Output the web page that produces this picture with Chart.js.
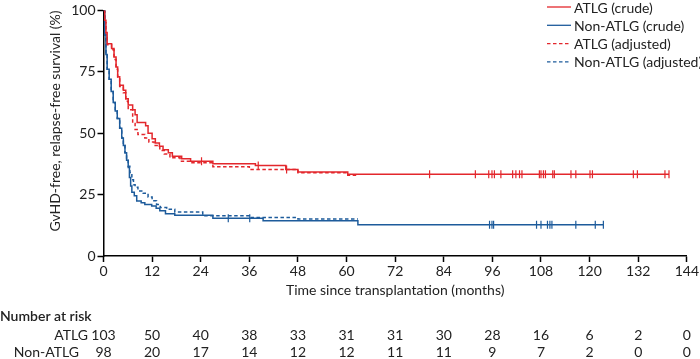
<!DOCTYPE html>
<html>
<head>
<meta charset="utf-8">
<script src="https://cdn.jsdelivr.net/npm/chart.js@4.4.1/dist/chart.umd.min.js"></script>
<style>
  html, body { margin: 0; padding: 0; background: #fff; }
  #wrap { width: 700px; height: 359px; position: relative; }
</style>
</head>
<body>
<div id="wrap"><canvas id="c" width="700" height="359"></canvas></div>
<script>
// ---------- DATA ----------
const xTicks = [0, 12, 24, 36, 48, 60, 72, 84, 96, 108, 120, 132, 144];
const yTicks = [0, 25, 50, 75, 100];

// Kaplan-Meier step points [months, %]
const atlgCrude = [[0,100],[0.3,96],[0.6,91],[0.9,86.4],[2.0,84.5],[2.6,81],[3.1,77],[3.5,73],[4.0,69.5],[4.9,67.5],[5.5,64],[6.1,61.5],[7.2,59.5],[7.8,57.5],[8.3,54.4],[10.4,53],[11.0,50],[12.0,47.7],[12.8,46],[13.8,44.7],[14.7,43.3],[16.0,42],[17.0,40.6],[19.3,39.6],[21.5,38.6],[27.0,37.6],[37.5,36.8],[45.0,35.2],[48.0,34.2],[60.3,33.3],[139.6,33.3]];
const nonAtlgCrude = [[0,100],[0.3,90],[0.6,82],[0.9,76],[1.4,72],[1.9,67],[2.4,62.5],[2.9,59],[3.4,56],[4.0,52],[4.5,48],[4.9,45],[5.3,42],[5.7,39],[6.1,36],[6.4,32],[6.7,28.5],[7.0,26],[7.6,24.5],[8.2,22.4],[9.3,21.7],[10.2,21],[11.9,20.4],[13.0,19.4],[13.9,18.4],[15.3,17.2],[17.6,16.6],[27.0,15.4],[39.4,14.4],[62.8,12.7],[123.4,12.7]];
const atlgAdjusted = [[0,100],[0.3,95],[0.6,90],[0.9,86],[2.0,84],[2.6,80],[3.1,76],[3.5,72.5],[4.0,69],[4.9,66.5],[5.5,63],[6.1,59.5],[7.2,54],[7.8,51.5],[8.5,49.5],[10.2,48],[11.2,46.4],[12.5,45],[13.9,43],[15.0,41.5],[16.4,40],[18.9,38.6],[21.5,38],[27.0,36.3],[36.0,35.2],[48.0,33.9],[60.3,32.9],[62.8,32.9]];
const nonAtlgAdjusted = [[0,100],[0.3,90],[0.6,82],[0.9,76],[1.4,72],[1.9,67],[2.4,62.5],[2.9,59],[3.4,56],[4.0,52],[4.5,48],[4.9,45],[5.3,42],[5.7,39.5],[6.1,36.5],[6.5,34],[7.0,31],[7.4,29],[7.8,28],[8.5,26.5],[9.8,25.5],[11.0,24],[12.0,22.5],[13.1,21],[14.0,19.7],[15.6,19],[17.6,17.9],[24.5,16.4],[36.0,15.7],[48.0,15.1],[62.8,15.1]];

// censoring times (months)
const atlgCensor = [24.2, 38.2, 45.2, 80.5, 91.8, 95.1, 95.9, 96.5, 98.1, 101.0, 101.8, 102.7, 103.3, 107.6, 108.0, 108.6, 109.1, 110.9, 111.3, 115.4, 116.6, 120.1, 120.7, 130.8, 131.8, 138.6, 139.6];
const nonAtlgCensor = [30.8, 36.1, 95.3, 95.9, 96.3, 106.9, 108.0, 109.6, 110.2, 110.7, 116.6, 121.4, 123.4];

// number at risk
const riskTimes = [0, 12, 24, 36, 48, 60, 72, 84, 96, 108, 120, 132, 144];
const atlgRisk = [103, 50, 40, 38, 33, 31, 31, 30, 28, 16, 6, 2, 0];
const nonAtlgRisk = [98, 20, 17, 14, 12, 12, 11, 11, 9, 7, 2, 0, 0];

const seriesNames = ['ATLG (crude)', 'Non-ATLG (crude)', 'ATLG (adjusted)', 'Non-ATLG (adjusted)'];
const xTitle = 'Time since transplantation (months)';
const yTitle = 'GvHD-free, relapse-free survival (%)';
const riskTitle = 'Number at risk';
const riskGroups = ['ATLG', 'Non-ATLG'];

// ---------- STYLE ----------
const RED = '#e3272c';
const BLUE = '#1d5b9b';
const FONT = 'Lato, "Open Sans", sans-serif';
const DASH = [3.5, 2.5];

const toPts = arr => arr.map(p => ({x: p[0], y: p[1]}));
function valueAt(curve, t) {
  let v = curve[0][1];
  for (const p of curve) { if (p[0] <= t) v = p[1]; else break; }
  return v;
}
const censorPts = (times, curve) => times.map(t => ({x: t, y: valueAt(curve, t)}));

const lineDs = (label, data, color, dash) => ({
  type: 'line', label, data: toPts(data), borderColor: color, backgroundColor: color,
  borderWidth: 1.5, borderDash: dash, stepped: true, pointRadius: 0, fill: false, tension: 0
});
const censorDs = (label, data, color) => ({
  type: 'scatter', label, data, borderColor: color, backgroundColor: color,
  pointStyle: 'line', rotation: 90, pointRadius: 4, borderWidth: 1.2, showLine: false
});

const legendPlugin = {
  id: 'customDecor',
  afterDraw(chart) {
    const ctx = chart.ctx;
    const xs = chart.scales.x;
    ctx.save();
    // legend
    const items = [[seriesNames[0], RED, []], [seriesNames[1], BLUE, []], [seriesNames[2], RED, DASH], [seriesNames[3], BLUE, DASH]];
    ctx.font = '14px ' + FONT;
    ctx.textBaseline = 'middle';
    ctx.textAlign = 'left';
    items.forEach((it, i) => {
      const y = 7 + i * 18.3;
      ctx.strokeStyle = it[1];
      ctx.lineWidth = 1.3;
      ctx.setLineDash(it[2]);
      ctx.beginPath(); ctx.moveTo(547, y); ctx.lineTo(571, y); ctx.stroke();
      ctx.setLineDash([]);
      ctx.fillStyle = '#222';
      ctx.fillText(it[0], 574, y + 1);
    });
    // x title
    ctx.fillStyle = '#222';
    ctx.textAlign = 'center';
    ctx.fillText(xTitle, (chart.chartArea.left + chart.chartArea.right) / 2, 290);
    // y title
    ctx.save();
    ctx.translate(55, 121);
    ctx.rotate(-Math.PI / 2);
    ctx.fillText(yTitle, 0, 0);
    ctx.restore();
    // risk table
    ctx.textAlign = 'left';
    ctx.font = '600 14px ' + FONT;
    ctx.fillText(riskTitle, 0, 316);
    ctx.font = '14px ' + FONT;
    ctx.textAlign = 'right';
    ctx.fillText(riskGroups[0], 88, 335);
    ctx.fillText(riskGroups[1], 79, 352);
    ctx.textAlign = 'center';
    riskTimes.forEach((t, i) => {
      const px = xs.getPixelForValue(t);
      ctx.fillText(String(atlgRisk[i]), px, 335);
      ctx.fillText(String(nonAtlgRisk[i]), px, 352);
    });
    ctx.restore();
  }
};

new Chart(document.getElementById('c'), {
  data: {
    datasets: [
      lineDs(seriesNames[0], atlgCrude, RED, []),
      lineDs(seriesNames[1], nonAtlgCrude, BLUE, []),
      lineDs(seriesNames[2], atlgAdjusted, RED, DASH),
      lineDs(seriesNames[3], nonAtlgAdjusted, BLUE, DASH),
      censorDs('ATLG censored', censorPts(atlgCensor, atlgCrude), RED),
      censorDs('Non-ATLG censored', censorPts(nonAtlgCensor, nonAtlgCrude), BLUE)
    ]
  },
  options: {
    responsive: false,
    devicePixelRatio: 1,
    animation: false,
    layout: { padding: { left: 47, right: 12.3, top: 6, bottom: 61 } },
    plugins: { legend: { display: false }, tooltip: { enabled: false } },
    scales: {
      x: {
        type: 'linear', min: 0, max: 144,
        afterBuildTicks: s => { s.ticks = xTicks.map(v => ({value: v})); },
        afterFit: s => { s.height = 42; },
        border: { display: true, color: '#000', width: 1.5 },
        grid: { display: true, drawOnChartArea: false, drawTicks: true, tickLength: 6, color: '#000', tickWidth: 1.5 },
        ticks: { color: '#222', font: { family: FONT, size: 14 }, padding: 1, maxRotation: 0, autoSkip: false }
      },
      y: {
        type: 'linear', min: 0, max: 100,
        afterBuildTicks: s => { s.ticks = yTicks.map(v => ({value: v})); },
        afterFit: s => { s.width = 56.5; },
        border: { display: true, color: '#000', width: 1.5 },
        grid: { display: true, drawOnChartArea: false, drawTicks: true, tickLength: 6, color: '#000', tickWidth: 1.5 },
        ticks: { color: '#222', font: { family: FONT, size: 14 }, padding: 2 }
      }
    }
  },
  plugins: [legendPlugin]
});
</script>
</body>
</html>
